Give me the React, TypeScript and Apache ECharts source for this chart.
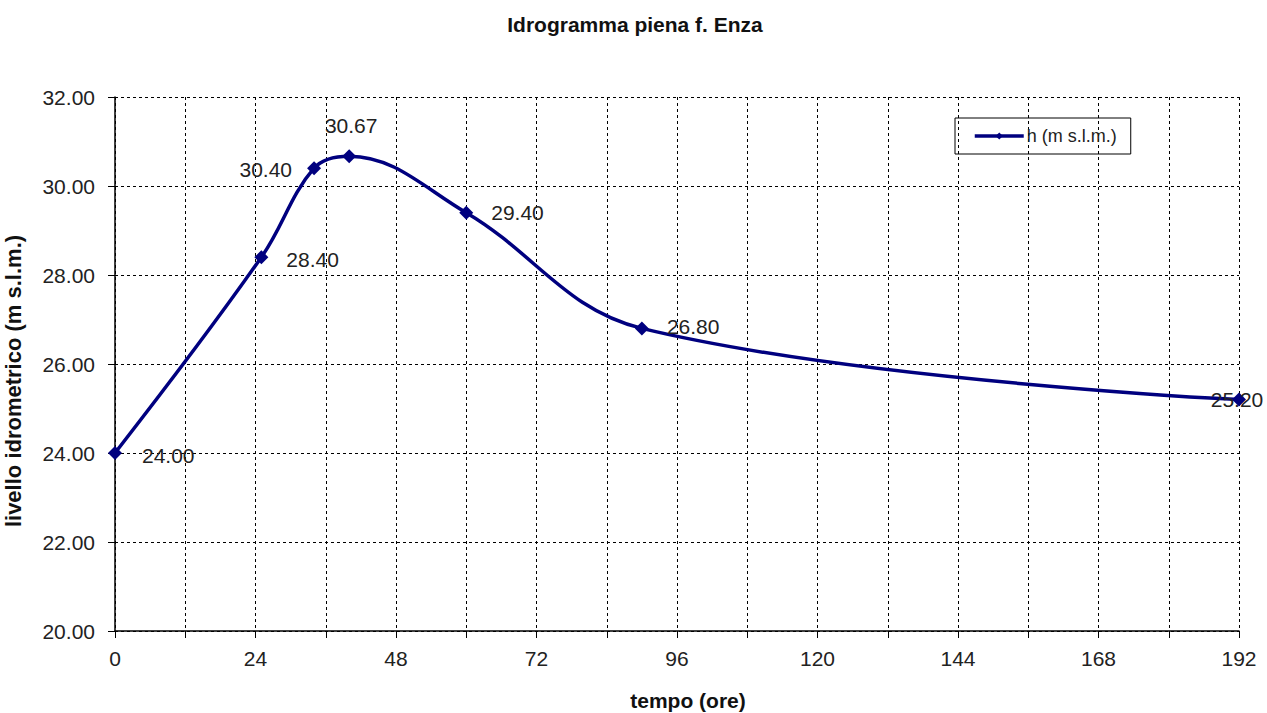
import React, { useEffect, useRef } from "react";
import * as echarts from "echarts";

// Flood hydrograph of the Enza river: water level vs time
const hours = [0, 25, 34, 40, 60, 90, 192];
const levels = [24.0, 28.4, 30.4, 30.67, 29.4, 26.8, 25.2];
const labelPositions = ["right", "right", "left", "top", "right", "right", "inside"];
const labelOffsets = [[6, 2], [4, 2], [-1, 1], [2, 1], [4, 0], [4, -2], [-2, 0]];

const seriesName = "h (m s.l.m.)";
const titleText = "Idrogramma piena f. Enza";
const xName = "tempo (ore)";
const yName = "livello idrometrico (m s.l.m.)";

const NAVY = "#00007f";
const FONT = "Liberation Sans, Arial, sans-serif";

export default function App() {
  const ref = useRef<HTMLDivElement>(null);

  useEffect(() => {
    if (!ref.current) return;
    const chart = echarts.init(ref.current, null, { renderer: "svg" });
    const data = hours.map((h, i) => ({
      value: [h, levels[i]],
      label: {
        position: labelPositions[i] as any,
        offset: labelOffsets[i],
      },
    }));
    chart.setOption({
      animation: false,
      backgroundColor: "#ffffff",
      textStyle: { fontFamily: FONT },
      title: {
        text: titleText,
        left: 630,
        textAlign: "center",
        top: 9,
        textStyle: { fontSize: 21, fontWeight: "bold", color: "#111", fontFamily: FONT },
      },
      legend: {
        data: [seriesName],
        left: 955,
        top: 118,
        orient: "vertical",
        borderColor: "#000",
        borderWidth: 1,
        borderRadius: 0,
        padding: [9, 14, 9, 18],
        itemWidth: 49,
        itemHeight: 9,
        itemGap: 0,
        lineStyle: { width: 3.5 },
        textStyle: { fontSize: 18, color: "#222", fontFamily: FONT, padding: [0, 0, 0, -2] },
      },
      graphic: [
        {
          type: "text",
          x: 13,
          y: 381,
          rotation: Math.PI / 2,
          style: {
            text: yName,
            fill: "#111",
            font: `bold 22px ${FONT}`,
            textAlign: "center",
            textVerticalAlign: "middle",
          },
        },
        {
          type: "text",
          x: 688,
          y: 700,
          style: {
            text: xName,
            fill: "#111",
            font: `bold 21px ${FONT}`,
            textAlign: "center",
            textVerticalAlign: "middle",
          },
        },
      ],
      grid: { left: 115, top: 97, width: 1124, height: 534, containLabel: false },
      xAxis: {
        type: "value",
        min: 0,
        max: 192,
        interval: 12,
        axisLine: { onZero: false, lineStyle: { color: "#000", width: 1.5 } },
        axisTick: {
          show: true,
          length: 7,
          lineStyle: { color: "#000" },
          interval: (_i: number, v: any) => Number(v) % 24 === 0,
        } as any,
        axisLabel: {
          fontSize: 21,
          color: "#222",
          margin: 17,
          fontFamily: FONT,
          formatter: (v: number) => (v % 24 === 0 ? String(v) : ""),
        },
        splitLine: { show: true, lineStyle: { color: "#000", type: [3, 3], width: 1 } },
      },
      yAxis: {
        type: "value",
        min: 20,
        max: 32,
        interval: 2,
        axisLine: { show: true, lineStyle: { color: "#000", width: 1.5 } },
        axisTick: { show: true, length: 7, lineStyle: { color: "#000" } },
        axisLabel: {
          fontSize: 21,
          color: "#222",
          margin: 20,
          fontFamily: FONT,
          formatter: (v: number) => v.toFixed(2),
        },
        splitLine: { show: true, lineStyle: { color: "#000", type: [3, 3], width: 1 } },
      },
      series: [
        {
          name: seriesName,
          type: "line",
          data,
          smooth: 0.38,
          symbol: "diamond",
          symbolSize: 14,
          itemStyle: { color: NAVY },
          lineStyle: { color: NAVY, width: 3.5 },
          label: {
            show: true,
            fontSize: 21,
            color: "#222",
            fontFamily: FONT,
            distance: 14,
            formatter: (p: any) => Number(p.value[1]).toFixed(2),
          },
        },
      ],
    });
    return () => chart.dispose();
  }, []);

  return (
    <div
      ref={ref}
      style={{ position: "absolute", left: 0, top: 0, width: 1267, height: 713 }}
    />
  );
}
